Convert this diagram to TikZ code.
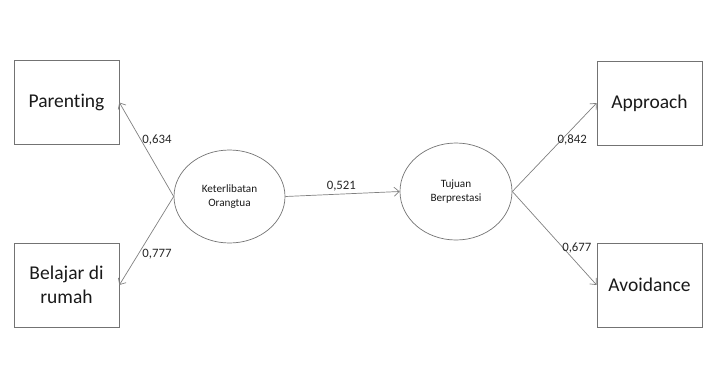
\documentclass[tikz,border=0pt]{standalone}
\usepackage{fontspec}
\setmainfont[Ligatures=NoCommon]{Carlito}
\usetikzlibrary{arrows.meta,shapes.geometric}
\begin{document}
\begin{tikzpicture}[x=1pt,y=-1pt,
  boxnode/.style={draw=black!55, line width=0.7pt, minimum width=105pt, minimum height=84pt, inner sep=0pt, align=center, font=\fontsize{19.5}{23.5}\selectfont, text=black!90},
  latent/.style={draw=black!55, line width=0.7pt, ellipse, inner sep=0pt, align=center, font=\fontsize{11.2}{14.5}\selectfont, text=black!90},
  conn/.style={draw=black!50, line width=0.7pt, -{Straight Barb[length=5pt,width=9pt]}},
  lbl/.style={font=\fontsize{12.8}{14}\selectfont, text=black!85, inner sep=0pt}]
\useasboundingbox (0,0) rectangle (721,381);
\node[boxnode] (par) at (66.5,102.5) {Parenting};
\node[boxnode] (bel) at (66.5,285) {Belajar di\\rumah};
\node[boxnode] (app) at (649.5,103) {Approach};
\node[boxnode] (avo) at (649.5,285) {Avoidance};
\node[latent, minimum width=111pt, minimum height=93pt] (ket) at (229.5,196.5) {Keterlibatan\\Orangtua};
\node[latent, minimum width=112pt, minimum height=97pt] (tuj) at (456,191.5) {\raisebox{-2pt}{Tujuan}\\\raisebox{-2pt}{Berprestasi}};
\draw[conn] (ket.west) -- node[lbl, pos=0.6, anchor=west, xshift=1pt] {0,634} (par.east);
\draw[conn] (ket.west) -- node[lbl, pos=0.656, anchor=west, xshift=4pt] {0,777} (bel.east);
\draw[conn] (ket.east) -- node[lbl, pos=0.49, anchor=south, yshift=3pt] {0,521} (tuj.west);
\draw[conn] (tuj.east) -- node[lbl, pos=0.58, anchor=west, xshift=-4pt] {0,842} (app.west);
\draw[conn] (tuj.east) -- node[lbl, pos=0.6, anchor=west, xshift=-1pt] {0,677} (avo.west);
\end{tikzpicture}
\end{document}
